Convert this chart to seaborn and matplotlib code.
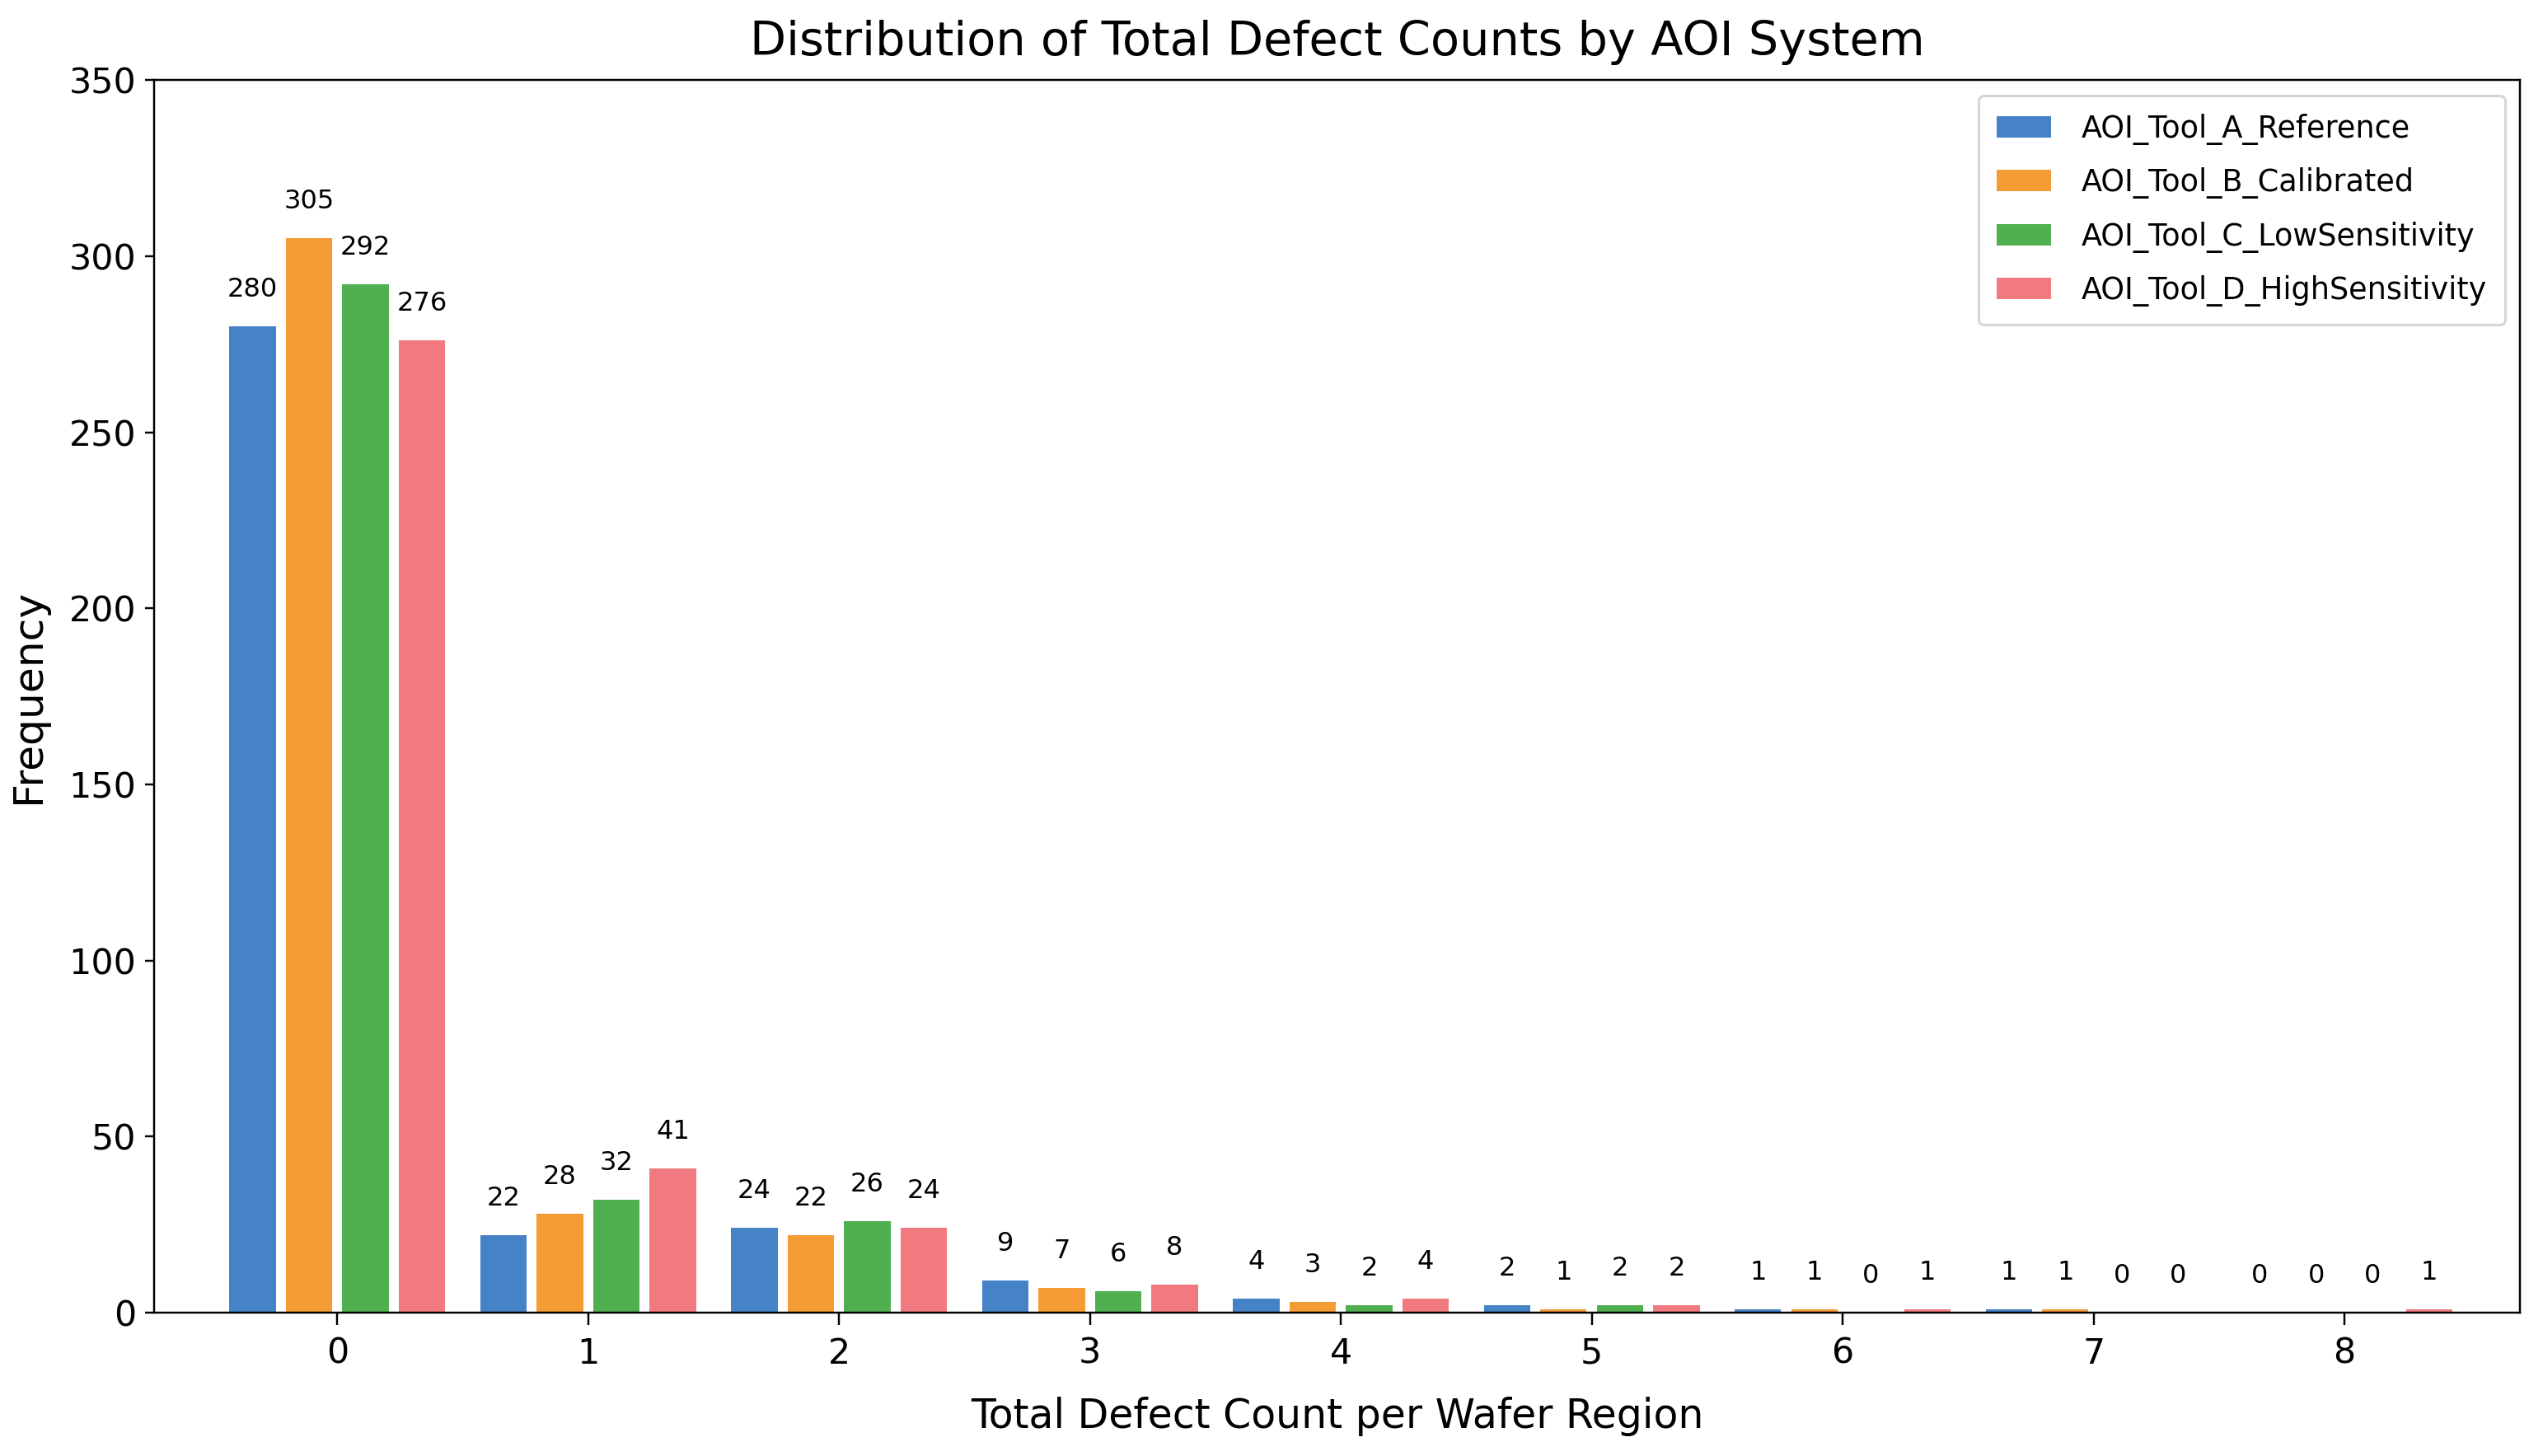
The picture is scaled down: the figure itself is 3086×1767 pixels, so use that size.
import pandas as pd
import matplotlib
matplotlib.use('Agg')
import matplotlib.pyplot as plt
import seaborn as sns

# --- data ---
defect_counts = [0, 1, 2, 3, 4, 5, 6, 7, 8]
tool_names = [
    'AOI_Tool_A_Reference',
    'AOI_Tool_B_Calibrated',
    'AOI_Tool_C_LowSensitivity',
    'AOI_Tool_D_HighSensitivity',
]
tool_a = [280, 22, 24, 9, 4, 2, 1, 1, 0]
tool_b = [305, 28, 22, 7, 3, 1, 1, 1, 0]
tool_c = [292, 32, 26, 6, 2, 2, 0, 0, 0]
tool_d = [276, 41, 24, 8, 4, 2, 1, 0, 1]
tool_colors = ['#4683C6', '#F59B34', '#50B050', '#F07A80']

# long form table for seaborn
rows = []
for name, values in zip(tool_names, [tool_a, tool_b, tool_c, tool_d]):
    for c, v in zip(defect_counts, values):
        rows.append({'count': c, 'tool': name, 'freq': v})
df = pd.DataFrame(rows)

fig, ax = plt.subplots(figsize=(3086 / 220, 1767 / 220), dpi=220)
fig.subplots_adjust(left=0.0606, right=0.991, top=0.945, bottom=0.0985)

sns.barplot(
    data=df, x='count', y='freq', hue='tool',
    hue_order=tool_names, palette=tool_colors,
    width=0.9, gap=0.18, saturation=1, errorbar=None, ax=ax,
)

# value labels over every bar (zeros too)
for cont in ax.containers:
    ax.bar_label(cont, fmt='%d', padding=9.5, fontsize=10.5)

ax.set_xlim(-0.73, 8.70)
ax.set_ylim(0, 350)
ax.set_title('Distribution of Total Defect Counts by AOI System', fontsize=18.8, pad=10)
ax.set_xlabel('Total Defect Count per Wafer Region', fontsize=16, labelpad=10)
ax.set_ylabel('Frequency', fontsize=16.5, labelpad=8.5)
ax.tick_params(axis='both', labelsize=14)
ax.tick_params(axis='x', length=5, pad=4.5)

handles, labels = ax.get_legend_handles_labels()
ax.legend(handles, labels, loc='upper right', fontsize=12,
          labelspacing=0.75, handlelength=1.8, handletextpad=1.0, borderpad=0.6)

plt.savefig('out.png', dpi=220)
plt.close()
